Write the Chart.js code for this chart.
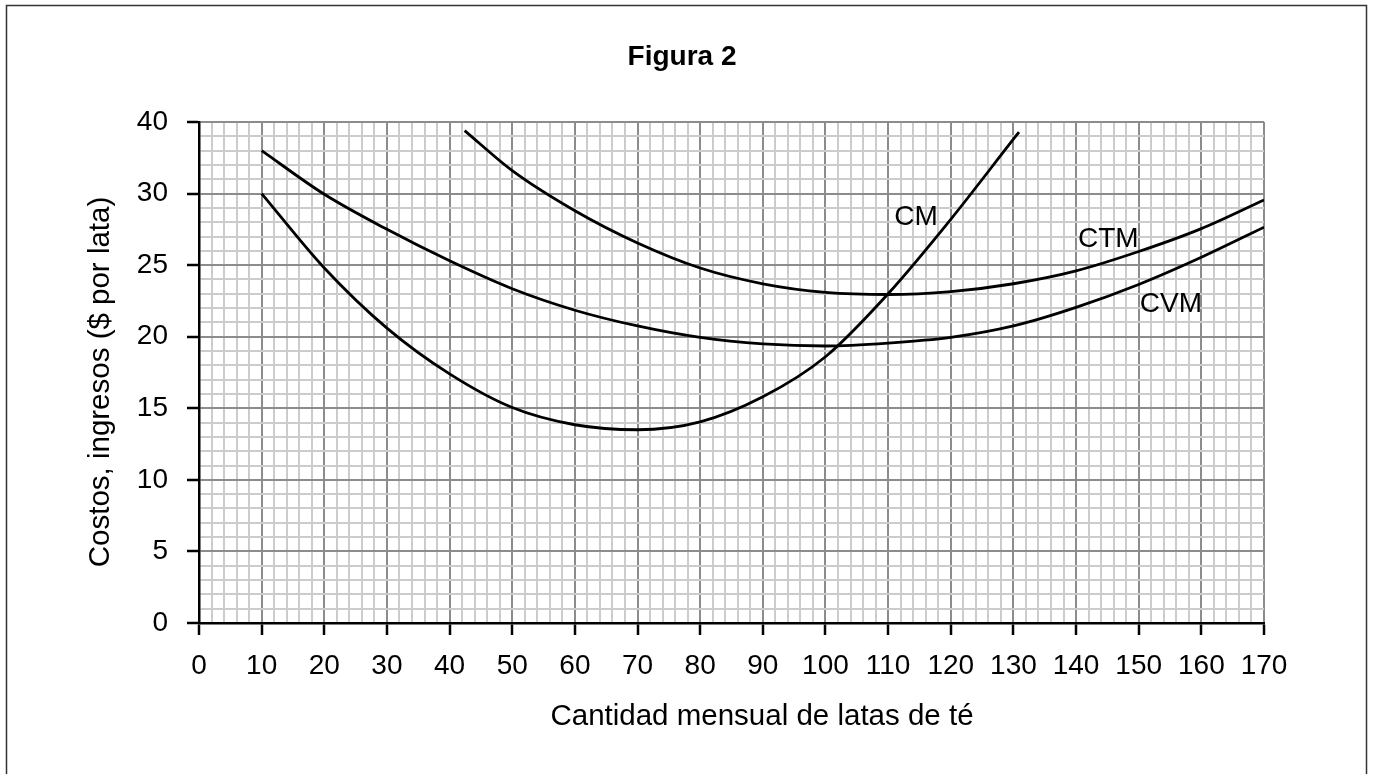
<!DOCTYPE html>
<html>
<head>
<meta charset="utf-8">
<title>Figura 2</title>
<script src="https://cdn.jsdelivr.net/npm/chart.js@4.4.0/dist/chart.umd.min.js"></script>
<style>
  html, body { margin: 0; padding: 0; background: #fff; }
  #wrap { width: 1375px; height: 774px; }
</style>
</head>
<body>
<div id="wrap"><canvas id="figura2" width="1375" height="774"></canvas></div>
<script>
// values (x = latas por mes, y = $ por lata)
const ctmX = [42.4, 50, 60, 70, 80, 90, 100, 110, 120, 130, 140, 150, 160, 170];
const ctmY = [34.4, 31.6, 28.8, 26.55, 24.8, 23.7, 23.1, 22.95, 23.15, 23.7, 24.6, 25.95, 27.55, 29.55];

const cvmX = [10, 20, 30, 40, 50, 60, 70, 80, 90, 100, 110, 120, 130, 140, 150, 160, 170];
const cvmY = [33.0, 29.95, 27.5, 25.3, 23.35, 21.85, 20.75, 19.95, 19.5, 19.35, 19.55, 19.95, 20.75, 22.05, 23.65, 25.55, 27.65];

const cmX = [10, 20, 30, 40, 50, 60, 70, 80, 90, 100, 110, 120, 130, 130.9];
const cmY = [30.0, 24.8, 20.6, 17.4, 15.05, 13.85, 13.5, 14.05, 15.8, 18.6, 23.0, 28.2, 33.8, 34.3];

// axis ticks (the top tick of the original is printed as "40")
const yTickValues = [0, 5, 10, 15, 20, 25, 30, 35];
const yTickLabels = ["0", "5", "10", "15", "20", "25", "30", "40"];

// curve names, placed in data units
const curveLabels = [
  { text: "CM", x: 114.45, y: 27.8 },
  { text: "CTM", x: 145.15, y: 26.25 },
  { text: "CVM", x: 155.15, y: 21.75 },
];

const FONT = "'Liberation Sans', Arial, sans-serif";

function toPoints(xs, ys) {
  return xs.map((x, i) => ({ x: x, y: ys[i] }));
}

function curve(label, xs, ys) {
  return {
    label: label,
    data: toPoints(xs, ys),
    showLine: true,
    borderColor: "#000",
    borderWidth: 2.8,
    pointRadius: 0,
    cubicInterpolationMode: "monotone",
    fill: false,
  };
}

// title, axis titles, curve names and the frame
const figText = {
  id: "figText",
  afterDraw(chart) {
    const { ctx } = chart;
    const xs = chart.scales.x;
    const ys = chart.scales.y;
    ctx.save();
    ctx.strokeStyle = "#333";
    ctx.lineWidth = 1.5;
    ctx.strokeRect(6.5, 5.5, 1360, 800);

    ctx.fillStyle = "#000";
    ctx.textAlign = "center";
    ctx.textBaseline = "alphabetic";
    ctx.font = "bold 28px " + FONT;
    ctx.fillText("Figura 2", 682, 65);

    ctx.font = "28px " + FONT;
    curveLabels.forEach(l => {
      ctx.fillText(l.text, xs.getPixelForValue(l.x), ys.getPixelForValue(l.y));
    });

    ctx.font = "29.5px " + FONT;
    ctx.fillText("Cantidad mensual de latas de té", 762, 725);

    ctx.translate(101, 382);
    ctx.rotate(-Math.PI / 2);
    ctx.textBaseline = "middle";
    ctx.fillText("Costos, ingresos ($ por lata)", 0, 0);
    ctx.restore();
  },
};

let figura2ctx = document.getElementById("figura2").getContext("2d");
new Chart(figura2ctx, {
  type: "scatter",
  data: {
    datasets: [
      curve("CTM", ctmX, ctmY),
      curve("CVM", cvmX, cvmY),
      curve("CM", cmX, cmY),
    ],
  },
  options: {
    responsive: false,
    animation: false,
    layout: { padding: { top: 122, right: 111, left: 0, bottom: 0 } },
    plugins: {
      legend: { display: false },
      tooltip: { enabled: false },
    },
    scales: {
      x: {
        type: "linear",
        min: 0,
        max: 170,
        afterFit: s => { s.height = 151; },
        ticks: {
          stepSize: 2,
          maxTicksLimit: 200,
          autoSkip: false,
          maxRotation: 0,
          padding: 14,
          color: "#000",
          font: { family: FONT, size: 28 },
          callback: v => (v % 10 === 0 ? String(v) : ""),
        },
        grid: {
          color: c => (c.tick && c.tick.value % 10 === 0 ? "#8c8c8c" : "#cccccc"),
          lineWidth: 2,
          tickLength: 12,
          tickWidth: 2.5,
          tickColor: c => (c.tick && c.tick.value % 10 === 0 ? "#000" : "rgba(0,0,0,0)"),
        },
        border: { color: "#000", width: 2.5 },
      },
      y: {
        type: "linear",
        min: 0,
        max: 35,
        afterFit: s => { s.width = 199; },
        ticks: {
          stepSize: 1,
          maxTicksLimit: 200,
          autoSkip: false,
          padding: 19,
          color: "#000",
          font: { family: FONT, size: 28 },
          callback: v => {
            const i = yTickValues.indexOf(v);
            return i >= 0 ? yTickLabels[i] : "";
          },
        },
        grid: {
          color: c => (c.tick && c.tick.value % 5 === 0 ? "#8c8c8c" : "#cccccc"),
          lineWidth: 2,
          tickLength: 12,
          tickWidth: 2.5,
          tickColor: c => (c.tick && c.tick.value % 5 === 0 ? "#000" : "rgba(0,0,0,0)"),
        },
        border: { color: "#000", width: 2.5 },
      },
    },
  },
  plugins: [figText],
});
</script>
</body>
</html>
